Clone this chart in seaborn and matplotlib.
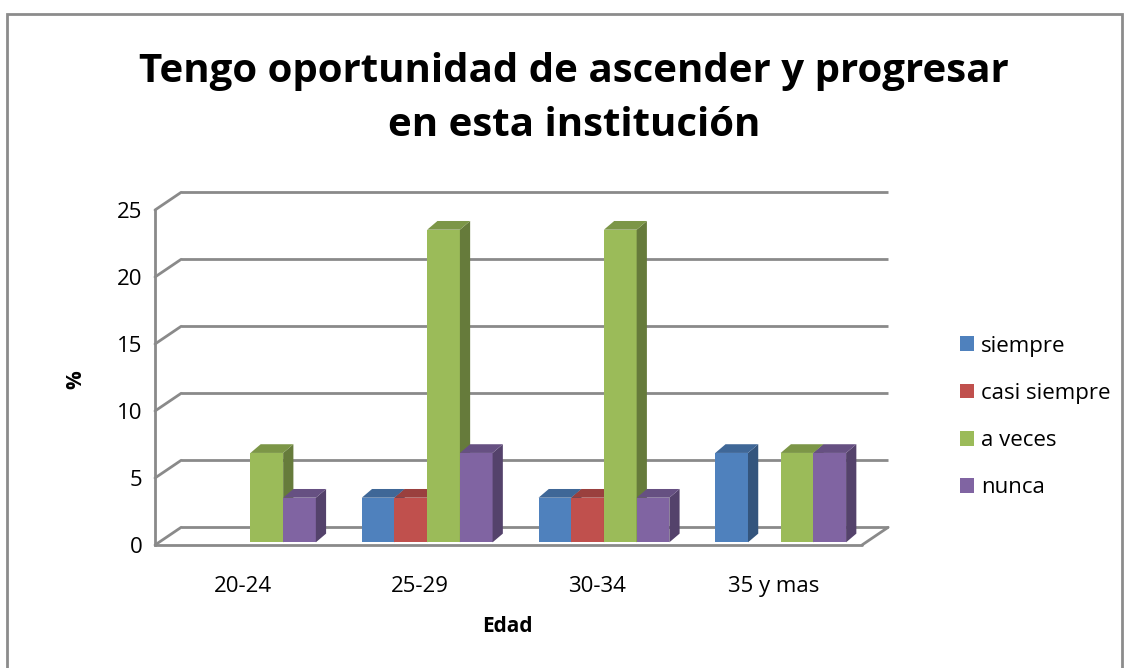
import numpy as np
import pandas as pd
import matplotlib
matplotlib.use("Agg")
import matplotlib.pyplot as plt
import seaborn as sns
from matplotlib.patches import Polygon, Rectangle, Patch
from matplotlib.colors import to_rgb

# data (percent)
categories = ["20-24", "25-29", "30-34", "35 y mas"]
series = ["siempre", "casi siempre", "a veces", "nunca"]
siempre = [0, 3.33, 3.33, 6.67]
casi_siempre = [0, 3.33, 3.33, 0]
a_veces = [6.67, 23.33, 23.33, 6.67]
nunca = [3.33, 6.67, 3.33, 6.67]
colors = ["#4F81BD", "#C0504D", "#9BBB59", "#8064A2"]
y_ticks = [0, 5, 10, 15, 20, 25]

df = pd.DataFrame({
    "Edad": categories * 4,
    "serie": [s for s in series for _ in categories],
    "valor": siempre + casi_siempre + a_veces + nunca,
})

# fake 3D geometry (data units)
BACK_DX, BACK_DY = 0.148, 1.32   # wall/floor depth
BAR_DX, BAR_DY = 0.058, 0.65     # bar depth
SHIFT_X, SHIFT_Y = 0.04, 0.2     # bars sit a bit behind the front edge
GRID = "#8a8a8a"

sns.set_theme(style="white")
plt.rcParams["font.family"] = ["Open Sans", "DejaVu Sans"]
plt.rcParams["text.color"] = "black"
plt.rcParams["axes.labelcolor"] = "black"

fig = plt.figure(figsize=(11.28, 6.68), dpi=100)
ax = fig.add_axes([155 / 1128, (668 - 545) / 668, 707 / 1128, 335 / 668])

sns.barplot(data=df, x="Edad", y="valor", hue="serie", hue_order=series,
            order=categories, palette=colors, width=0.74, saturation=1,
            legend=False, ax=ax, linewidth=0, errorbar=None)

ax.set_xlim(-0.5, 3.5)
ax.set_ylim(0, 25)

def shade(c, f):
    r, g, b = to_rgb(c)
    return (r * f, g * f, b * f)

bars = sorted([p for p in ax.patches if isinstance(p, Rectangle)], key=lambda p: p.get_x())
for i, p in enumerate(bars):
    h = p.get_height()
    if h <= 0:
        p.set_visible(False)
        continue
    p.set_x(p.get_x() + SHIFT_X)
    p.set_y(SHIFT_Y)
    x, w, y0 = p.get_x(), p.get_width(), p.get_y()
    top = y0 + h
    c = p.get_facecolor()
    z = 3 + i * 0.01
    p.set_zorder(z)
    p.set_edgecolor("none")
    side = Polygon([(x + w, y0), (x + w + BAR_DX, y0 + BAR_DY),
                    (x + w + BAR_DX, top + BAR_DY), (x + w, top)],
                   closed=True, facecolor=shade(c, 0.66), edgecolor="none",
                   zorder=z + 0.001, clip_on=False)
    lid = Polygon([(x, top), (x + BAR_DX, top + BAR_DY),
                   (x + w + BAR_DX, top + BAR_DY), (x + w, top)],
                  closed=True, facecolor=shade(c, 0.8), edgecolor="none",
                  zorder=z + 0.002, clip_on=False)
    ax.add_patch(side)
    ax.add_patch(lid)

# back wall gridlines + left diagonals
for v in y_ticks:
    ax.plot([-0.5 + BACK_DX, 3.5 + BACK_DX], [v + BACK_DY, v + BACK_DY],
            color=GRID, lw=2, zorder=1, clip_on=False, solid_capstyle="butt")
    ax.plot([-0.5, -0.5 + BACK_DX], [v, v + BACK_DY],
            color=GRID, lw=2, zorder=1, clip_on=False)
# floor front edge + right diagonal
ax.plot([-0.5, 3.5], [0, 0], color=GRID, lw=2, zorder=1, clip_on=False)
ax.plot([3.5, 3.5 + BACK_DX], [0, BACK_DY], color=GRID, lw=2, zorder=1, clip_on=False)

for s in ["top", "right", "bottom"]:
    ax.spines[s].set_visible(False)
ax.spines["left"].set_color(GRID)
ax.spines["left"].set_linewidth(2)
ax.set_yticks(y_ticks)
ax.set_xticks(np.arange(len(categories)))
ax.set_xticklabels(categories)
ax.tick_params(axis="y", length=6, width=1.5, color=GRID, labelcolor="black",
               labelsize=16, pad=3)
ax.tick_params(axis="x", length=0, labelcolor="black", labelsize=16, pad=22)

ax.set_xlabel("Edad", fontsize=15, fontweight="bold", va="center")
ax.xaxis.set_label_coords((507 - 155) / 707, (545 - 627) / 335)
ax.set_ylabel("%", fontsize=15, fontweight="bold", va="center", ha="center")
ax.yaxis.set_label_coords((76 - 155) / 707, (545 - 380) / 335)
ax.patch.set_alpha(0)

fig.suptitle("Tengo oportunidad de ascender y progresar\nen esta institución",
             x=574 / 1128, y=1 - 98.5 / 668, va="center", fontsize=29,
             fontweight="bold", linespacing=1.5)

handles = [Patch(facecolor=c, edgecolor="none") for c in colors]
fig.legend(handles, series, loc="center left", bbox_to_anchor=(960 / 1128, 1 - 417 / 668),
           frameon=False, fontsize=16, handlelength=0.65, handleheight=0.65,
           handletextpad=0.3, labelspacing=1.18, borderpad=0, borderaxespad=0)

# outer chart frame
fig.patches.append(Rectangle((7 / 1128, -0.02), (1122 - 7) / 1128, 1.02 - 14 / 668,
                             transform=fig.transFigure, fill=False,
                             edgecolor="#8c8c8c", linewidth=2))

fig.savefig("out.png", dpi=100)
